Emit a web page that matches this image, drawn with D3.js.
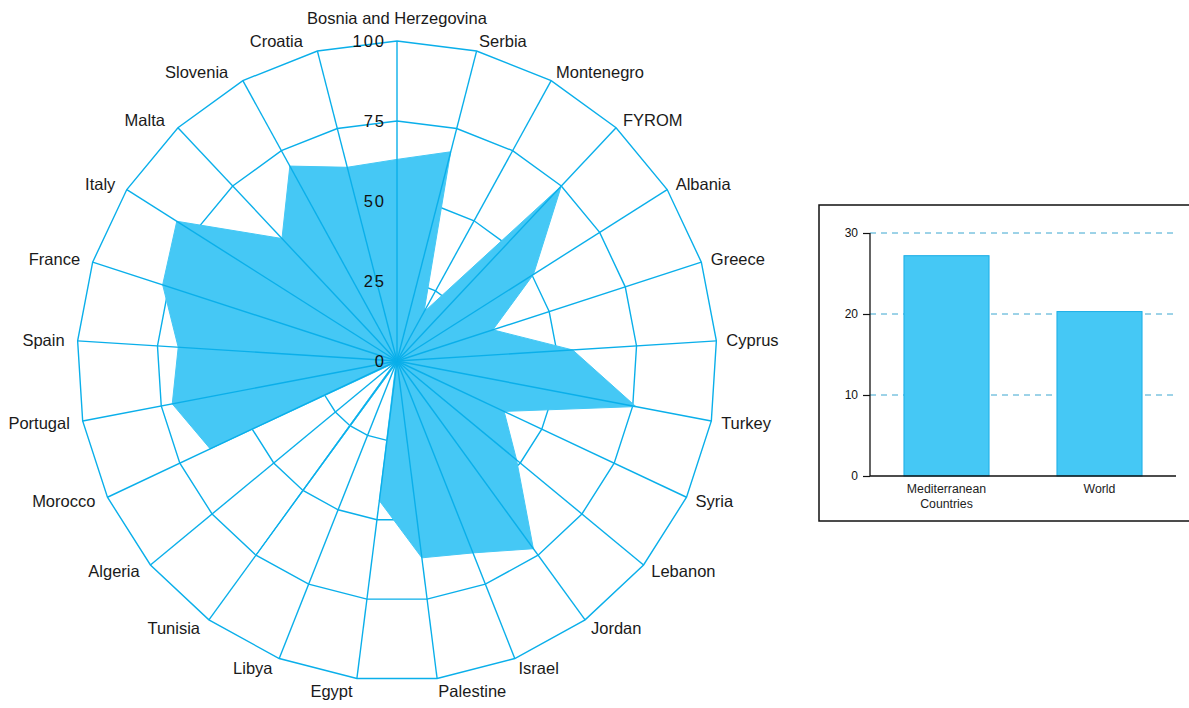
<!DOCTYPE html>
<html>
<head>
<meta charset="utf-8">
<script src="https://cdn.jsdelivr.net/npm/d3@7"></script>
<style>
  body { margin: 0; background: #fff; }
  svg { display: block; font-family: "Liberation Sans", Arial, Helvetica, sans-serif; }
</style>
</head>
<body>
<svg id="chart" width="1189" height="708"></svg>
<script>
// ---- Radar data ----
const countries = ["Bosnia and Herzegovina","Serbia","Montenegro","FYROM","Albania","Greece","Cyprus","Turkey","Syria","Lebanon","Jordan","Israel","Palestine","Egypt","Libya","Tunisia","Algeria","Morocco","Portugal","Spain","France","Italy","Malta","Slovenia","Croatia"];
const values = [63, 67.5, 17.5, 75, 50.5, 31.5, 55, 76, 37, 48.5, 72.5, 64.5, 62, 44, 1, 75, 1, 64.5, 71.5, 68.5, 77, 81.5, 52.5, 69.5, 62.5];
const radarTicks = [0, 25, 50, 75, 100];

// ---- Bar data ----
const barCategories = ["Mediterranean Countries", "World"];
const barValues = [27.2, 20.3];
const barTicks = [0, 10, 20, 30];

const svg = d3.select("#chart");
const lineColor = "#0AAFEA";
const fillColor = "#45C8F5";

// ---- Radar ----
const cx = 397, cy = 361, R = 320;
const rScale = d3.scaleLinear().domain([0, 100]).range([0, R]);
const angle = d3.scaleLinear().domain([0, countries.length]).range([0, 2 * Math.PI]);
const pt = (i, v) => [cx + Math.sin(angle(i)) * rScale(v), cy - Math.cos(angle(i)) * rScale(v)];

const radar = svg.append("g");

// rings
radarTicks.filter(t => t > 0).forEach(t => {
  radar.append("path")
    .attr("d", d3.line()(countries.map((c, i) => pt(i, t))) + "Z")
    .attr("fill", "none").attr("stroke", lineColor).attr("stroke-width", 1.4);
});

// data polygon
radar.append("path")
  .attr("d", d3.line()(values.map((v, i) => pt(i, v))) + "Z")
  .attr("fill", fillColor).attr("stroke", fillColor).attr("stroke-width", 1);

// spokes
countries.forEach((c, i) => {
  const [x, y] = pt(i, 100);
  radar.append("line").attr("x1", cx).attr("y1", cy).attr("x2", x).attr("y2", y)
    .attr("stroke", lineColor).attr("stroke-width", 1.4);
});

// tick labels
radarTicks.forEach(t => {
  radar.append("text")
    .attr("x", cx - 11).attr("y", cy - rScale(t))
    .attr("dy", "0.36em")
    .attr("text-anchor", "end")
    .attr("font-size", 16.5)
    .attr("letter-spacing", 2)
    .attr("fill", "#111")
    .text(t);
});

// country labels
countries.forEach((c, i) => {
  const a = angle(i);
  const s = Math.sin(a), co = Math.cos(a);
  let anchor = "middle", r = 330, dx = 0, dy = 0;
  if (s > 0.05) { anchor = "start"; }
  else if (s < -0.05) { anchor = "end"; dx = -3 - 9 * Math.max(0, co - 0.6) / 0.37; }
  else if (co > 0) { r = 343; }
  if (co < -0.95) dy = 3;
  radar.append("text")
    .attr("x", cx + s * r + dx)
    .attr("y", cy - co * r + dy)
    .attr("dy", "0.35em")
    .attr("text-anchor", anchor)
    .attr("font-size", 16.5)
    .attr("fill", "#1a1a1a")
    .text(c);
});

// ---- Bar chart ----
const frame = { x: 819, y: 205, w: 375, h: 316 };
svg.append("rect").attr("x", frame.x).attr("y", frame.y).attr("width", frame.w).attr("height", frame.h)
  .attr("fill", "#fff").attr("stroke", "#111").attr("stroke-width", 1.5);

const x0 = 870, x1 = 1176, yTop = 233, yBot = 476;
const yScale = d3.scaleLinear().domain([0, 30]).range([yBot, yTop]);
const xScale = d3.scaleBand().domain(barCategories).range([x0, x1]).paddingInner(0.444).paddingOuter(0.222);

const bar = svg.append("g");

// dashed gridlines
barTicks.filter(t => t > 0).forEach(t => {
  bar.append("line").attr("x1", x0).attr("x2", x1).attr("y1", yScale(t)).attr("y2", yScale(t))
    .attr("stroke", "#3AA6D0").attr("stroke-width", 1).attr("stroke-dasharray", "6,5");
});

// bars
bar.selectAll("rect.bar").data(barValues).enter().append("rect")
  .attr("class", "bar")
  .attr("x", (d, i) => xScale(barCategories[i]))
  .attr("y", d => yScale(d))
  .attr("width", xScale.bandwidth())
  .attr("height", d => yBot - yScale(d))
  .attr("fill", fillColor).attr("stroke", "#1AADE6").attr("stroke-width", 1);

// y axis
const yAxis = d3.axisLeft(yScale).tickValues(barTicks).tickSize(7).tickPadding(5);
const ya = bar.append("g").attr("transform", `translate(${x0},0)`).call(yAxis);
ya.select(".domain").attr("stroke", "#111").attr("stroke-width", 1.3).attr("d", `M0,${yTop}V${yBot}`);
ya.selectAll(".tick line").attr("stroke", "#111").attr("stroke-width", 1.2);
ya.selectAll(".tick text").attr("font-size", 12).attr("fill", "#111").attr("font-family", "Liberation Sans, Arial, sans-serif");

// x axis line
bar.append("line").attr("x1", x0).attr("x2", x1).attr("y1", yBot).attr("y2", yBot)
  .attr("stroke", "#111").attr("stroke-width", 1.3);

// x labels
barCategories.forEach(c => {
  const words = c === "Mediterranean Countries" ? ["Mediterranean", "Countries"] : [c];
  const t = bar.append("text")
    .attr("x", xScale(c) + xScale.bandwidth() / 2)
    .attr("y", 492.5)
    .attr("text-anchor", "middle")
    .attr("font-size", 12.3)
    .attr("fill", "#222");
  words.forEach((w, k) => {
    t.append("tspan").attr("x", xScale(c) + xScale.bandwidth() / 2).attr("dy", k === 0 ? 0 : 15.7).text(w);
  });
});
</script>
</body>
</html>
